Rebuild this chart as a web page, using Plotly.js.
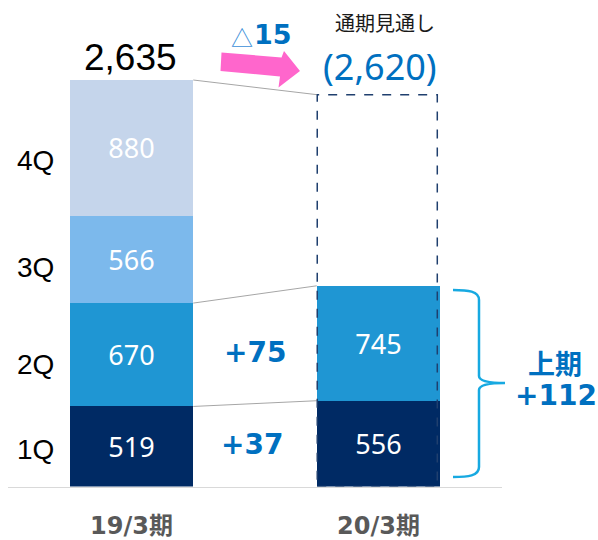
<!DOCTYPE html>
<html>
<head>
<meta charset="utf-8">
<script src="https://cdn.plot.ly/plotly-3.0.1.min.js"></script>
<style>html,body{margin:0;padding:0;background:#fff;}#chart{width:598px;height:540px;}</style>
</head>
<body>
<div id="chart"></div>
<script>
// ---- data ----
const periods = ['19/3期', '20/3期'];
const quarters = ['1Q', '2Q', '3Q', '4Q'];
const q1 = [519, 556];
const q2 = [670, 745];
const q3 = [566, null];
const q4 = [880, null];
const totalPrev = 2635;
const forecastLabel = '(2,620)';
const forecastOutlineTop = 2540;   // height of dashed outline as drawn
const diffQ1 = '+37';
const diffQ2 = '+75';
const diffFull = '△15';
const diffHalf = '+112';
const colors = ['#002a64', '#1f96d3', '#7cb9ec', '#c5d5eb'];

// ---- layout helpers (figure pixel -> paper) ----
const W = 598, H = 540;
const X = px => px / W;
const Y = py => 1 - py / H;
const P = (px, py) => X(px).toFixed(5) + ',' + Y(py).toFixed(5);

const series = [q1, q2, q3, q4];
const traces = series.map((vals, i) => ({
  type: 'bar',
  name: quarters[i],
  x: periods,
  y: vals,
  width: 0.5,
  marker: {color: colors[i], line: {width: 0}},
  text: vals.map(v => v == null ? '' : String(v)),
  texttemplate: '%{text}',
  textposition: 'inside',
  insidetextanchor: 'middle',
  textangle: 0,
  textfont: {family: 'Noto Sans, sans-serif', size: 27, color: '#ffffff'},
  hoverinfo: 'skip'
}));

const half = 0.25;
const cumPrev = [q1[0], q1[0] + q2[0], totalPrev];
const cumCur = [q1[1], q1[1] + q2[1], forecastOutlineTop];

const shapes = [];
// connector lines
for (let i = 0; i < 3; i++) {
  shapes.push({type: 'line', xref: 'x', yref: 'y', x0: 0 + half, x1: 1 - half,
    y0: cumPrev[i], y1: cumCur[i], line: {color: '#a6a6a6', width: 1}, layer: 'above'});
}
// dashed forecast outline
shapes.push({type: 'rect', xref: 'x', yref: 'y', x0: 1 - half + 0.002, x1: 1 + half - 0.012,
  y0: 0, y1: forecastOutlineTop, line: {color: '#1f3f6e', width: 1.5, dash: 'dash'},
  fillcolor: 'rgba(0,0,0,0)', layer: 'above'});
// pink arrow
shapes.push({type: 'path', xref: 'paper', yref: 'paper',
  path: 'M' + P(221.5, 52.5) + ' L' + P(281.5, 57.5) + ' L' + P(284, 51) + ' L' + P(300, 71) +
        ' L' + P(278.5, 87.5) + ' L' + P(280, 76.5) + ' L' + P(220.5, 71) + ' Z',
  fillcolor: '#ff66cc', line: {width: 0}, layer: 'above'});
// brace
shapes.push({type: 'path', xref: 'paper', yref: 'paper',
  path: 'M' + P(453, 290) + ' C' + P(468, 290) + ' ' + P(479, 291) + ' ' + P(479, 300) +
        ' L' + P(479, 376) + ' C' + P(479, 381) + ' ' + P(488, 383) + ' ' + P(505, 383) +
        ' C' + P(488, 383) + ' ' + P(479, 385) + ' ' + P(479, 390) +
        ' L' + P(479, 467) + ' C' + P(479, 476) + ' ' + P(468, 477) + ' ' + P(453, 477),
  line: {color: '#17a9e1', width: 2.5}, layer: 'above'});

const narrow = 'Liberation Sans, Arial, sans-serif';
const boldBlue = {family: 'DejaVu Sans, Noto Sans CJK JP, sans-serif', size: 28, color: '#0070c0', weight: 'bold'};
const qLabelY = [449, 364, 268, 160];

const ann = [];
function addText(px, py, text, font) {
  ann.push({xref: 'paper', yref: 'paper', x: X(px), y: Y(py), text: text, showarrow: false,
    xanchor: 'center', yanchor: 'middle', font: font});
}
quarters.forEach((q, i) => addText(35, qLabelY[i], q, {family: narrow, size: 28, color: '#000000'}));
addText(130, 58, totalPrev.toLocaleString('en-US'), {family: narrow, size: 37, color: '#000000'});
addText(242, 36, diffFull.charAt(0), {family: 'Noto Sans CJK JP, sans-serif', size: 22, color: '#3b8fd9'});
addText(272.5, 35, diffFull.slice(1), {family: 'DejaVu Sans, sans-serif', size: 27, color: '#0070c0', weight: 'bold'});
addText(385, 22, '通期見通し', {family: 'Noto Sans CJK JP, sans-serif', size: 20, color: '#1a1a1a'});
addText(380, 66, forecastLabel, {family: 'Noto Sans, sans-serif', size: 36, color: '#0070c0'});
addText(254.5, 352, diffQ2, boldBlue);
addText(251.5, 444, diffQ1, boldBlue);
addText(555, 362, '上期', {family: 'Noto Sans CJK JP, sans-serif', size: 27, color: '#0070c0', weight: 'bold'});
addText(556, 395, diffHalf, boldBlue);

const layout = {
  width: W, height: H,
  margin: {l: 0, r: 0, t: 0, b: 0},
  paper_bgcolor: '#ffffff', plot_bgcolor: '#ffffff',
  barmode: 'stack',
  showlegend: false,
  xaxis: {type: 'category', range: [-0.5, 1.5], domain: [X(8), X(502)],
    showline: true, linecolor: '#d9d9d9', linewidth: 1.5, showgrid: false, zeroline: false,
    ticks: '', ticklabelstandoff: 17,
    tickfont: {family: 'DejaVu Sans, Noto Sans CJK JP, sans-serif', size: 24, color: '#595959', weight: 'bold'},
    fixedrange: true},
  yaxis: {range: [0, 3024], domain: [Y(486.5), Y(20)], visible: false, fixedrange: true},
  shapes: shapes,
  annotations: ann
};

Plotly.newPlot('chart', traces, layout, {displayModeBar: false, staticPlot: true});
</script>
</body>
</html>
